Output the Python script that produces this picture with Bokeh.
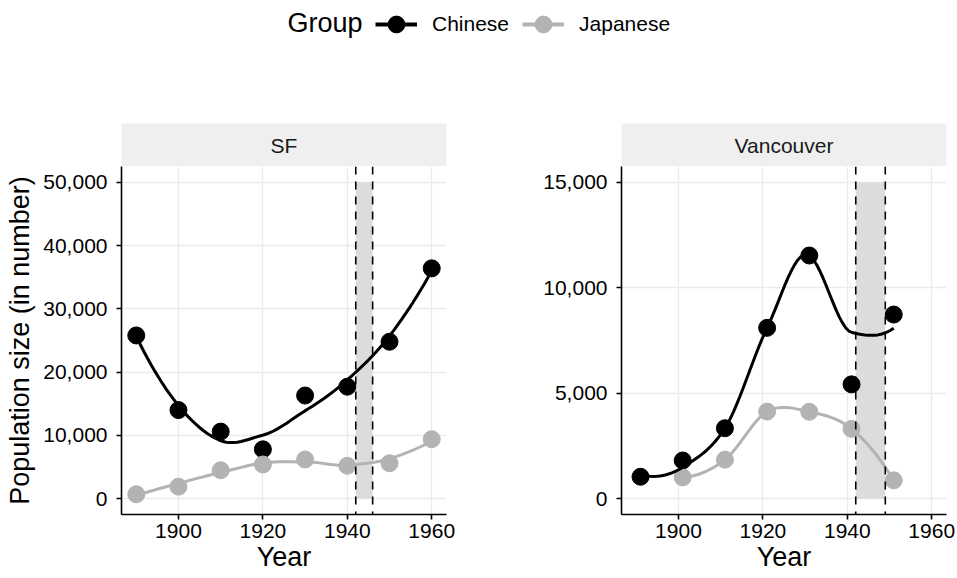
import numpy as np
from bokeh.plotting import figure
from bokeh.layouts import column, row
from bokeh.models import (Range1d, FixedTicker, NumeralTickFormatter, Span, Legend,
                          LegendItem, Label, ColumnDataSource)
from bokeh.core.properties import value
from bokeh.embed import file_html
from bokeh.resources import INLINE

# ---------------- data ----------------
groups = ["Chinese", "Japanese"]
group_colors = ["#000000", "#B3B3B3"]

sf_years = [1890, 1900, 1910, 1920, 1930, 1940, 1950, 1960]
sf_chinese = [25800, 14000, 10600, 7800, 16300, 17700, 24800, 36400]
sf_japanese = [700, 1900, 4500, 5400, 6200, 5200, 5600, 9400]

van_years_chinese = [1891, 1901, 1911, 1921, 1931, 1941, 1951]
van_chinese = [1040, 1810, 3340, 8100, 11530, 5420, 8730]
van_years_japanese = [1901, 1911, 1921, 1931, 1941, 1951]
van_japanese = [1010, 1850, 4130, 4120, 3310, 870]

facets = ["SF", "Vancouver"]
shade_xmin = [1942, 1942]
shade_xmax = [1946, 1949]
shade_ymax = [50000, 15000]
x_ticks = [1900, 1920, 1940, 1960]
y_ticks_sf = [0, 10000, 20000, 30000, 40000, 50000]
y_ticks_van = [0, 5000, 10000, 15000]

FONT = "Liberation Sans"


# --------- loess smoother (local quadratic, kd-tree vertices + Hermite interpolation) ---------
def _local_fit(xv, yv, x0, q):
    d = np.abs(xv - x0)
    h = np.sort(d)[q - 1]
    u = d / h
    w = np.where(u < 0.999, (1 - u ** 3) ** 3, 0.0)
    dx = xv - x0
    X = np.vstack([np.ones(len(xv)), dx, dx ** 2]).T
    sw = np.sqrt(w)
    beta, *_ = np.linalg.lstsq(X * sw[:, None], yv * sw, rcond=None)
    return beta[0], beta[1]


def loess(xv, yv, n_out=80, span=0.75, cell=0.2):
    xv = np.asarray(xv, float)
    yv = np.asarray(yv, float)
    n = len(xv)
    q = int(np.floor(n * span))
    fc = int(np.floor(n * span * cell))
    xs_sorted = np.sort(xv)
    lo, hi = xs_sorted[0], xs_sorted[-1]
    mu = 0.005 * (hi - lo)
    verts = {lo - mu, hi + mu}

    def split(l, u, vlo, vhi):
        if (u - l + 1) <= fc:
            return
        m = (l + 1 + u + 1) // 2 - 1
        v = xs_sorted[m]
        if v == vlo or v == vhi:
            return
        verts.add(v)
        split(l, m, vlo, v)
        split(m + 1, u, v, vhi)

    split(0, n - 1, lo - mu, hi + mu)
    vs = np.array(sorted(verts))
    vals = np.array([_local_fit(xv, yv, v, q) for v in vs])
    xs = np.linspace(lo, hi, n_out)
    out = []
    for x in xs:
        i = np.searchsorted(vs, x, side="right") - 1
        i = min(max(i, 0), len(vs) - 2)
        x0, x1 = vs[i], vs[i + 1]
        hgt = x1 - x0
        t = (x - x0) / hgt
        f0, d0 = vals[i]
        f1, d1 = vals[i + 1]
        out.append((1 - t) ** 2 * (1 + 2 * t) * f0 + t ** 2 * (3 - 2 * t) * f1
                   + (t * (1 - t) ** 2 * d0 - t ** 2 * (1 - t) * d1) * hgt)
    return xs, np.array(out)


all_years = sf_years + van_years_chinese + van_years_japanese
xmin, xmax = min(all_years), max(all_years)
xpad = (xmax - xmin) * 0.05


def make_panel(series, ymax, yticks, xsmin, xsmax, left_label, width, border_right):
    ypad = ymax * 0.05
    p = figure(width=width, height=411, output_backend="svg", toolbar_location=None,
               x_range=Range1d(xmin - xpad, xmax + xpad),
               y_range=Range1d(-ypad, ymax + ypad),
               min_border_left=121, min_border_right=border_right,
               min_border_top=0, min_border_bottom=63)
    p.outline_line_color = None
    p.background_fill_color = "white"
    p.border_fill_color = "white"
    p.xaxis.ticker = FixedTicker(ticks=x_ticks)
    p.yaxis.ticker = FixedTicker(ticks=yticks)
    p.yaxis.formatter = NumeralTickFormatter(format="0,0")
    for ax in (p.xaxis, p.yaxis):
        ax.axis_line_color = "black"
        ax.axis_line_width = 1.6
        ax.major_tick_line_color = "black"
        ax.major_tick_line_width = 1.6
        ax.major_tick_out = 5
        ax.major_tick_in = 0
        ax.minor_tick_line_color = None
        ax.major_label_text_font = FONT
        ax.major_label_text_font_size = "21px"
        ax.major_label_text_color = "black"
        ax.axis_label_text_font = FONT
        ax.axis_label_text_font_size = "27px"
        ax.axis_label_text_font_style = "normal"
        ax.axis_label_text_color = "black"
    p.xaxis.major_label_standoff = 4
    p.xaxis.axis_label_standoff = 1
    p.yaxis.major_label_standoff = 9
    p.yaxis.axis_label_standoff = 5
    p.xaxis.axis_label = "Year"
    if left_label:
        p.yaxis.axis_label = left_label
    p.grid.grid_line_color = "#EBEBEB"
    p.grid.grid_line_width = 1.3

    p.quad(left=[xsmin], right=[xsmax], bottom=[0], top=[ymax],
           fill_color="#DCDCDC", line_color=None)

    for (xs, ys), col in zip(series, group_colors):
        p.scatter(xs, ys, size=17, color=col)
    for (xs, ys), col in zip(series, group_colors):
        lx, ly = loess(xs, ys)
        p.line(lx, ly, line_width=3, color=col)

    for xv in (xsmin, xsmax):
        p.add_layout(Span(location=xv, dimension="height", line_color="black",
                          line_width=1.6, line_dash="8 7"))
    return p


def make_strip(text, width, border_right):
    s = figure(width=width, height=43, output_backend="svg", toolbar_location=None,
               x_range=Range1d(0, 1), y_range=Range1d(0, 1),
               x_axis_location=None, y_axis_location=None,
               min_border_left=121, min_border_right=border_right,
               min_border_top=0, min_border_bottom=0)
    s.outline_line_color = None
    s.background_fill_color = "#EFEFEF"
    s.border_fill_color = "white"
    s.xgrid.visible = False
    s.ygrid.visible = False
    s.text(x=[0.5], y=[0.5], text=[text], text_align="center", text_baseline="middle",
           text_font=value(FONT), text_font_size="21px", text_color="#1A1A1A")
    return s


p_sf = make_panel([(sf_years, sf_chinese), (sf_years, sf_japanese)],
                  shade_ymax[0], y_ticks_sf, shade_xmin[0], shade_xmax[0],
                  "Population size (in number)", 500, 54)
p_van = make_panel([(van_years_chinese, van_chinese), (van_years_japanese, van_japanese)],
                   shade_ymax[1], y_ticks_van, shade_xmin[1], shade_xmax[1],
                   None, 455, 9)
s_sf = make_strip(facets[0], 500, 54)
s_van = make_strip(facets[1], 455, 9)

# legend figure (legend glyphs come from placeholder renderers with no drawable point)
TOP_H = 123
top = figure(width=955, height=TOP_H, output_backend="svg", toolbar_location=None,
             x_range=Range1d(0, 1), y_range=Range1d(0, 1),
             x_axis_location=None, y_axis_location=None,
             min_border=0)
top.outline_line_color = None
top.xgrid.visible = False
top.ygrid.visible = False
items = []
for g, col in zip(groups, group_colors):
    src = ColumnDataSource(data=dict(x=[float("nan")], y=[float("nan")]))
    lr = top.line("x", "y", source=src, line_width=4, color=col)
    sr = top.scatter("x", "y", source=src, size=17, color=col)
    items.append(LegendItem(label=g, renderers=[lr, sr]))
legend = Legend(items=items, orientation="horizontal", location=(375, TOP_H - 45),
                glyph_width=42, glyph_height=42, label_standoff=15, spacing=13,
                padding=0, margin=0, background_fill_alpha=0, border_line_alpha=0,
                label_text_font=FONT, label_text_font_size="21px",
                label_text_color="black", label_text_baseline="middle")
top.add_layout(legend, "center")
top.add_layout(Label(x=287, y=TOP_H - 22, x_units="screen", y_units="screen", text="Group",
                     text_font=FONT, text_font_size="27px", text_color="black",
                     text_baseline="middle", text_align="left"))

layout = column(top, row(column(s_sf, p_sf), column(s_van, p_van)))
open("out.html", "w").write(file_html(layout, INLINE))
